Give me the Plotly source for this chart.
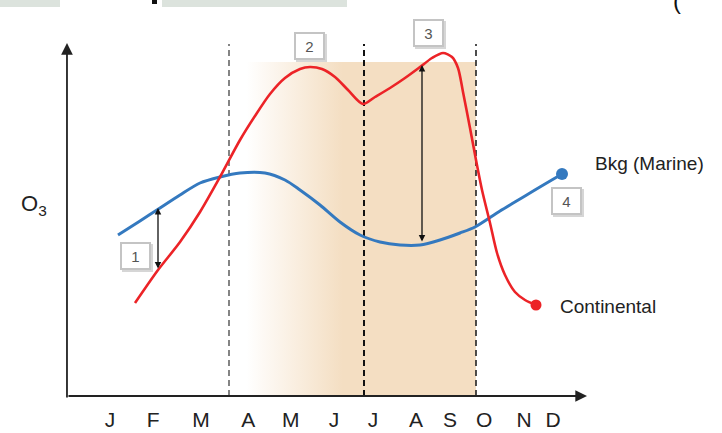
import plotly.graph_objects as go

# ---------------- data (schematic, arbitrary O3 units) ----------------
MONTHS = ["J", "F", "M", "A", "M", "J", "J", "A", "S", "O", "N", "D"]
MONTH_POS = [1.00, 2.07, 3.26, 4.43, 5.49, 6.56, 7.53, 8.60, 9.44, 10.29, 11.28, 12.00]

BKG_X = [1.199, 1.745, 2.242, 2.738, 3.235, 3.731, 4.228, 4.849, 5.345, 5.718, 6.215,
         6.711, 7.208, 7.704, 8.201, 8.698, 9.194, 9.691, 10.063, 10.684, 11.305, 11.801, 12.224]
BKG_Y = [16.1, 17.5, 18.8, 20.1, 21.3, 21.9, 22.3, 22.3, 21.6, 20.6, 19.1,
         17.4, 16.1, 15.4, 15.1, 15.1, 15.6, 16.3, 16.9, 18.5, 20.0, 21.2, 22.2]

CONT_X = [1.621, 2.192, 2.738, 3.235, 3.731, 4.228, 4.600, 4.973, 5.345, 5.718, 5.966,
          6.264, 6.587, 6.910, 7.282, 7.580, 7.953, 8.325, 8.698, 8.996, 9.269, 9.492,
          9.641, 9.765, 9.939, 10.088, 10.237, 10.436, 10.610, 10.808, 11.056, 11.305, 11.578]
CONT_Y = [9.3, 12.6, 15.4, 18.4, 21.9, 25.6, 28.0, 30.2, 31.8, 32.7, 32.9,
          32.7, 31.9, 30.6, 29.2, 29.9, 30.8, 31.8, 32.9, 33.8, 34.3, 33.9,
          32.8, 30.4, 26.8, 23.6, 20.6, 17.3, 14.3, 12.1, 10.4, 9.6, 9.1]

SEASON_EDGES = [3.955, 7.307, 10.088]   # dashed season boundaries
SHADE_TOP = 33.4
DASH_TOP = 35.2

# numbered callouts: label, x, y
CALLOUT_LABELS = ["1", "2", "3", "4"]
CALLOUT_X = [1.621, 5.966, 8.896, 12.323]
CALLOUT_Y = [14.0, 35.0, 36.3, 19.5]

# double arrows (x, y_top, y_bottom)
DIFF_X = [2.192, 8.747]
DIFF_TOP = [18.8, 33.1]
DIFF_BOT = [12.6, 15.3]

X_RANGE = [-1.731, 16.196]
Y_RANGE = [0, 39.6]
AXIS_X0 = -0.068
AXIS_X_END = 12.845
AXIS_Y_END = 35.3

RED = "#EC2327"
BLUE = "#3479BF"
TAN = "#F4DEC2"
FONT = "Liberation Sans, Arial, sans-serif"

fig = go.Figure()

# shaded season band (gradient then solid)
a, b = SEASON_EDGES[0], SEASON_EDGES[2]
fig.add_trace(go.Scatter(
    x=[a, b, b, a, a], y=[0, 0, SHADE_TOP, SHADE_TOP, 0],
    mode="lines", fill="toself", line=dict(width=0),
    fillgradient=dict(type="horizontal",
                      colorscale=[[0, "#FFFFFF"], [0.07, "#FFFFFF"], [0.46, TAN], [1, TAN]]),
    hoverinfo="skip", showlegend=False))

# dashed boundaries
dash_styles = [("#333333", 1.2), ("#111111", 2.0), ("#222222", 1.6)]
for e, (c, w) in zip(SEASON_EDGES, dash_styles):
    fig.add_trace(go.Scatter(x=[e, e], y=[0, DASH_TOP], mode="lines",
                             line=dict(color=c, width=w, dash="6px,4px"),
                             hoverinfo="skip", showlegend=False))

# curves
fig.add_trace(go.Scatter(x=BKG_X, y=BKG_Y, mode="lines",
                         line=dict(color=BLUE, width=3, shape="spline", smoothing=0.8),
                         showlegend=False))
fig.add_trace(go.Scatter(x=CONT_X, y=CONT_Y, mode="lines",
                         line=dict(color=RED, width=2.6, shape="spline", smoothing=0.8),
                         showlegend=False))
fig.add_trace(go.Scatter(x=[BKG_X[-1]], y=[BKG_Y[-1]], mode="markers",
                         marker=dict(color=BLUE, size=12), showlegend=False))
fig.add_trace(go.Scatter(x=[CONT_X[-1]], y=[CONT_Y[-1]], mode="markers",
                         marker=dict(color=RED, size=11), showlegend=False))

ann = []
# axes with arrows
ann.append(dict(x=AXIS_X0, y=AXIS_Y_END, ax=AXIS_X0, ay=-0.3, xref="x", yref="y",
                axref="x", ayref="y", text="", showarrow=True, arrowhead=2,
                arrowsize=1.3, arrowwidth=1.8, arrowcolor="#222"))
ann.append(dict(x=AXIS_X_END, y=0, ax=AXIS_X0, ay=0, xref="x", yref="y",
                axref="x", ayref="y", text="", showarrow=True, arrowhead=2,
                arrowsize=1.3, arrowwidth=1.8, arrowcolor="#222"))
# double arrows
for x, yt, yb in zip(DIFF_X, DIFF_TOP, DIFF_BOT):
    ann.append(dict(x=x, y=yt, ax=x, ay=yb, xref="x", yref="y", axref="x", ayref="y",
                    text="", showarrow=True, arrowhead=2, startarrowhead=2,
                    arrowside="end+start", arrowsize=1.0, arrowwidth=1.3,
                    arrowcolor="#111"))
# callout boxes
for lab, x, y in zip(CALLOUT_LABELS, CALLOUT_X, CALLOUT_Y):
    ann.append(dict(x=x, y=y, xref="x", yref="y", text=" ", showarrow=False,
                    xshift=2, yshift=-2, bgcolor="#D6D6D6", width=25, height=22,
                    borderpad=1, borderwidth=2, bordercolor="#D6D6D6"))
    ann.append(dict(x=x, y=y, xref="x", yref="y", text=lab, showarrow=False,
                    font=dict(family=FONT, size=15, color="#555"),
                    bgcolor="white", width=25, height=22, borderpad=1,
                    borderwidth=2, bordercolor="#C4C4C4"))
# series labels
ann.append(dict(x=12.993, y=23.3, xref="x", yref="y", text="Bkg (Marine)",
                xanchor="left", showarrow=False,
                font=dict(family=FONT, size=19, color="#222")))
ann.append(dict(x=12.124, y=9.0, xref="x", yref="y", text="Continental",
                xanchor="left", showarrow=False,
                font=dict(family=FONT, size=19, color="#222")))
# y label
ann.append(dict(x=-1.25, y=19.1, xref="x", yref="y", text="O<sub>3</sub>",
                xanchor="left", showarrow=False,
                font=dict(family=FONT, size=22, color="#222")))
# cut-off title fragment at the top
ann.append(dict(x=683 / 722, y=1.0, xref="paper", yref="paper", text="(",
                showarrow=False, yanchor="middle",
                font=dict(family=FONT, size=24, color="#111")))

fig.update_layout(
    width=722, height=433,
    margin=dict(l=0, r=0, t=0, b=37),
    paper_bgcolor="white", plot_bgcolor="white",
    xaxis=dict(range=X_RANGE, showgrid=False, zeroline=False, showline=False,
               tickmode="array", tickvals=MONTH_POS, ticktext=MONTHS,
               ticks="outside", ticklen=5, tickcolor="rgba(0,0,0,0)",
               tickfont=dict(family=FONT, size=21, color="#222"), fixedrange=True),
    yaxis=dict(range=Y_RANGE, visible=False, fixedrange=True),
    annotations=ann,
    shapes=[
        dict(type="rect", xref="paper", yref="paper", x0=0, x1=60 / 722,
             y0=1 - 7 / 396, y1=1, fillcolor="#DCE3DD", line=dict(width=0), layer="above"),
        dict(type="rect", xref="paper", yref="paper", x0=162 / 722, x1=347 / 722,
             y0=1 - 7 / 396, y1=1, fillcolor="#DCE3DD", line=dict(width=0), layer="above"),
        dict(type="rect", xref="paper", yref="paper", x0=152 / 722, x1=157 / 722,
             y0=1 - 4 / 396, y1=1, fillcolor="#111", line=dict(width=0), layer="above"),
    ],
)

fig.write_html("out.html", config=dict(displayModeBar=False, staticPlot=True),
               post_script="document.body.style.margin='0px';")
